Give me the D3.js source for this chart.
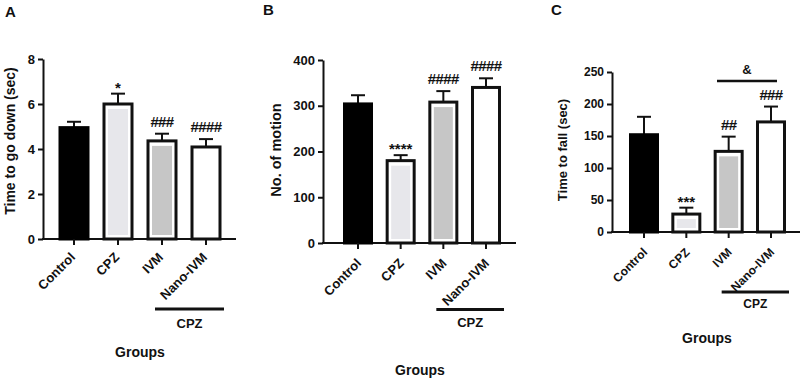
<!DOCTYPE html>
<html>
<head>
<meta charset="utf-8">
<script src="https://cdn.jsdelivr.net/npm/d3@7"></script>
<style>
  html, body { margin: 0; padding: 0; background: #fff; }
  svg { display: block; }
  text { font-family: "Liberation Sans", Arial, Helvetica, sans-serif; font-weight: bold; fill: #111; }
</style>
</head>
<body>
<svg id="chart" width="800" height="380"></svg>
<script>
// ---------- DATA ----------
const groups = ["Control", "CPZ", "IVM", "Nano-IVM"];
const treatedLabel = "CPZ";
const xTitle = "Groups";

// Panel A: Time to go down (sec)
const downMean = [4.95, 6.0, 4.36, 4.09];
const downSem  = [0.26, 0.46, 0.32, 0.35];
const downSig  = ["", "*", "###", "####"];
const downTicks = [0, 2, 4, 6, 8];

// Panel B: No. of motion
const motionMean = [304, 180, 308, 340];
const motionSem  = [19, 12, 24, 20];
const motionSig  = ["", "****", "####", "####"];
const motionTicks = [0, 100, 200, 300, 400];

// Panel C: Time to fall (sec)
const fallMean = [152, 28, 126, 172];
const fallSem  = [28, 10, 23, 24];
const fallSig  = ["", "***", "##", "###"];
const fallTicks = [0, 50, 100, 150, 200, 250];
const fallPairSig = "&";   // IVM vs Nano-IVM

const barFills = ["#000000", "#e7e7eb", "#c6c6c6", "#ffffff"];

// ---------- LAYOUT ----------
const panels = [
  { letter: "A", letterX: 5, letterY: 17, title: "Time to go down (sec)",
    mean: downMean, sem: downSem, sig: downSig, ticks: downTicks, max: 8,
    axisX: 43, axisEnd: 236, y0: 239, yTop: 59, c0: 74, c1: 206, barW: 28,
    font: 13, titleFont: 14, titleX: 15, titleY: 141,
    labDx: 2, labDy: 19,
    grpLineY: 309, cpzY: 328, groupsX: 140, groupsY: 357 },
  { letter: "B", letterX: 263, letterY: 15, title: "No. of motion",
    mean: motionMean, sem: motionSem, sig: motionSig, ticks: motionTicks, max: 400,
    axisX: 323, axisEnd: 516, y0: 243, yTop: 60, c0: 358, c1: 486, barW: 27,
    font: 13, titleFont: 14.5, titleX: 281, titleY: 150,
    labDx: 4, labDy: 21,
    grpLineY: 309.5, cpzY: 327, groupsX: 420, groupsY: 375 },
  { letter: "C", letterX: 551, letterY: 15, title: "Time to fall (sec)",
    mean: fallMean, sem: fallSem, sig: fallSig, ticks: fallTicks, max: 250,
    axisX: 612, axisEnd: 800, y0: 232, yTop: 72, c0: 644, c1: 771, barW: 27,
    font: 12, titleFont: 13, titleX: 567, titleY: 150,
    labDx: 4, labDy: 21,
    grpLineY: 292, cpzY: 308, groupsX: 707, groupsY: 343,
    pair: { text: fallPairSig, lineY: 81, textY: 74, x0: 717, x1: 777 } }
];

const svg = d3.select("#chart");

panels.forEach(p => {
  const g = svg.append("g");
  const y = d3.scaleLinear().domain([0, p.max]).range([p.y0, p.yTop]);
  const x = d3.scalePoint().domain(groups).range([p.c0, p.c1]);

  // panel letter
  g.append("text").attr("x", p.letterX).attr("y", p.letterY)
    .style("font-size", "15px").style("font-weight", "600").text(p.letter);

  // y axis
  const yAxis = d3.axisLeft(y).tickValues(p.ticks).tickSize(5).tickPadding(3).tickSizeOuter(0);
  const ya = g.append("g").attr("transform", `translate(${p.axisX},0)`).call(yAxis);
  ya.select(".domain").attr("stroke", "#111").attr("stroke-width", 2);
  ya.selectAll(".tick line").attr("stroke", "#111").attr("stroke-width", 2);
  ya.selectAll(".tick text").style("font-size", p.font + "px").attr("fill", "#111")
    .style("font-family", '"Liberation Sans", Arial, sans-serif').style("font-weight", "bold");

  // x axis line
  g.append("line").attr("x1", p.axisX - 1).attr("x2", p.axisEnd)
    .attr("y1", p.y0).attr("y2", p.y0).attr("stroke", "#111").attr("stroke-width", 2);

  // bars
  groups.forEach((grp, i) => {
    const cx = x(grp);
    const top = y(p.mean[i]);
    const h = p.y0 - top;
    const bx = cx - p.barW / 2;
    // error bar (upper only)
    const et = y(p.mean[i] + p.sem[i]);
    g.append("line").attr("x1", cx).attr("x2", cx).attr("y1", top).attr("y2", et)
      .attr("stroke", "#111").attr("stroke-width", 2);
    g.append("line").attr("x1", cx - 7).attr("x2", cx + 7).attr("y1", et).attr("y2", et)
      .attr("stroke", "#111").attr("stroke-width", 2);
    if (i === 0) {
      g.append("rect").attr("x", bx).attr("y", top).attr("width", p.barW).attr("height", h)
        .attr("fill", "#000").attr("stroke", "#000").attr("stroke-width", 3);
    } else {
      g.append("rect").attr("x", bx).attr("y", top).attr("width", p.barW).attr("height", h)
        .attr("fill", "#fff").attr("stroke", "#111").attr("stroke-width", 3);
      if (barFills[i] !== "#ffffff") {
        g.append("rect").attr("x", bx + 4).attr("y", top + 5)
          .attr("width", p.barW - 8).attr("height", Math.max(0, h - 9))
          .attr("fill", barFills[i]);
      }
    }
    // x tick
    g.append("line").attr("x1", cx).attr("x2", cx).attr("y1", p.y0).attr("y2", p.y0 + 6)
      .attr("stroke", "#111").attr("stroke-width", 2);
    // x label rotated
    g.append("text")
      .attr("transform", `translate(${cx + p.labDx},${p.y0 + p.labDy}) rotate(-45)`)
      .attr("text-anchor", "end").style("font-size", p.font + "px").text(grp);
    // significance
    if (p.sig[i]) {
      const isStar = p.sig[i][0] === "*";
      g.append("text").attr("x", cx).attr("y", isStar ? et - 1 : et - 7)
        .attr("text-anchor", "middle")
        .style("font-size", "15px")
        .style("letter-spacing", isStar ? "0px" : "-0.6px")
        .text(p.sig[i]);
    }
  });

  // CPZ group line
  const lx0 = x(groups[2]) - 7, lx1 = x(groups[3]) + 18;
  g.append("line").attr("x1", lx0).attr("x2", lx1).attr("y1", p.grpLineY).attr("y2", p.grpLineY)
    .attr("stroke", "#111").attr("stroke-width", 3);
  g.append("text").attr("x", (lx0 + lx1) / 2).attr("y", p.cpzY).attr("text-anchor", "middle")
    .style("font-size", p.font + "px").text(treatedLabel);

  // pair comparison
  if (p.pair) {
    g.append("line").attr("x1", p.pair.x0).attr("x2", p.pair.x1)
      .attr("y1", p.pair.lineY).attr("y2", p.pair.lineY).attr("stroke", "#111").attr("stroke-width", 2.5);
    g.append("text").attr("x", (p.pair.x0 + p.pair.x1) / 2).attr("y", p.pair.textY)
      .attr("text-anchor", "middle").style("font-size", "13px").text(p.pair.text);
  }

  // y title
  g.append("text").attr("transform", `translate(${p.titleX},${p.titleY}) rotate(-90)`)
    .attr("text-anchor", "middle").style("font-size", p.titleFont + "px").text(p.title);

  // x title
  g.append("text").attr("x", p.groupsX).attr("y", p.groupsY).attr("text-anchor", "middle")
    .style("font-size", "14px").text(xTitle);
});
</script>
</body>
</html>
